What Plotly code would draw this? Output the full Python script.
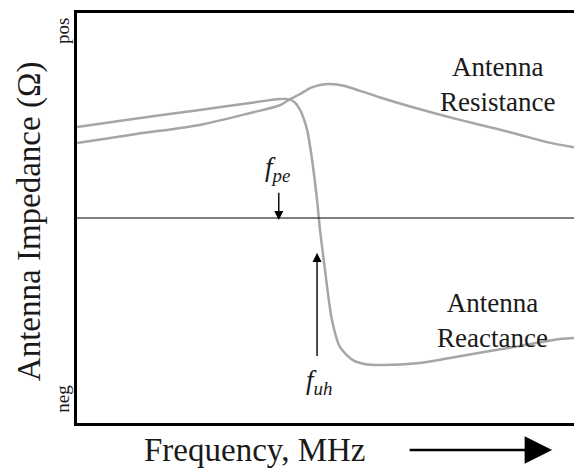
import plotly.graph_objects as go

# Frequency axis runs 0..100 (arbitrary units), impedance -1 (neg) .. +1 (pos)
res_freq = [0, 12, 24.7, 34.8, 40.8, 42.9, 44.9, 46.9, 48.9, 50.9, 53.9, 57, 61, 67.6, 74.4, 81, 87.7, 94.6, 100]
res_imp = [0.366, 0.41, 0.454, 0.512, 0.55, 0.58, 0.605, 0.634, 0.649, 0.654, 0.644, 0.62, 0.588, 0.54, 0.495, 0.455, 0.415, 0.37, 0.345]

react_freq = [0, 12, 24.7, 34.8, 40.8, 42.5, 43.8, 44.9, 46.3, 47.3, 48.3, 48.9, 49.9, 51.3, 52.9, 55.5, 57.9, 61, 69, 75, 83.1, 89.1, 97.2, 100]
react_imp = [0.444, 0.485, 0.527, 0.561, 0.58, 0.58, 0.565, 0.527, 0.43, 0.283, 0.088, -0.059, -0.254, -0.498, -0.629, -0.693, -0.712, -0.717, -0.707, -0.683, -0.649, -0.624, -0.59, -0.585]

curve_color = "#a6a6a6"
serif = "Liberation Serif"
ink = "#1a1a1a"

fig = go.Figure()
fig.add_trace(go.Scatter(x=res_freq, y=res_imp, mode="lines",
                         line=dict(color=curve_color, width=2.5, shape="spline", smoothing=0.8)))
fig.add_trace(go.Scatter(x=react_freq, y=react_imp, mode="lines",
                         line=dict(color=curve_color, width=2.5, shape="spline", smoothing=0.8)))
# zero impedance reference
fig.add_trace(go.Scatter(x=[0, 100], y=[0, 0], mode="lines", line=dict(color="black", width=1.2)))

fpe, fuh = 40.6, 48.3


def label(x, y, text, size, angle=0, ref="data"):
    d = dict(x=x, y=y, text=text, showarrow=False, textangle=angle,
             xanchor="center", yanchor="middle", font=dict(family=serif, size=size, color=ink))
    if ref == "paper":
        d.update(xref="paper", yref="paper")
    return d


annotations = [
    label(84.7, 0.649, "Antenna<br>Resistance", 27),
    label(83.7, -0.50, "Antenna<br>Reactance", 27),
    label(fpe - 0.3, 0.24, "<i>f<sub>pe</sub></i>", 27),
    label(fuh + 0.4, -0.80, "<i>f<sub>uh</sub></i>", 27),
    # f_pe arrow pointing down onto the zero line
    dict(x=fpe, y=-0.01, ax=fpe, ay=0.13, xref="x", yref="y", axref="x", ayref="y",
         text="", showarrow=True, arrowhead=2, arrowsize=1.3, arrowwidth=1.4, arrowcolor="black"),
    # f_uh arrow pointing up to the reactance curve
    dict(x=fuh, y=-0.17, ax=fuh, ay=-0.68, xref="x", yref="y", axref="x", ayref="y",
         text="", showarrow=True, arrowhead=2, arrowsize=1.3, arrowwidth=1.4, arrowcolor="black"),
    # axis end labels
    label(-0.029, 0.955, "pos", 19, -90, "paper"),
    label(-0.029, 0.058, "neg", 19, -90, "paper"),
    # axis titles
    label(-0.094, 0.493, "Antenna Impedance (Ω)", 33, -90, "paper"),
    label(0.358, -0.066, "Frequency, MHz", 33, 0, "paper"),
    # frequency direction arrow
    dict(x=0.956, y=-0.066, ax=-144, ay=0, xref="paper", yref="paper", axref="pixel", ayref="pixel",
         text="", showarrow=True, arrowhead=2, arrowsize=2.2, arrowwidth=2.5, arrowcolor="black"),
]

fig.update_layout(
    width=574, height=468,
    margin=dict(l=77, r=0, t=13, b=45),
    paper_bgcolor="white", plot_bgcolor="white",
    showlegend=False,
    annotations=annotations,
    xaxis=dict(range=[0, 100], showgrid=False, zeroline=False, showticklabels=False, ticks="",
               showline=True, linecolor="black", linewidth=2.5, mirror=True),
    yaxis=dict(range=[-1.0, 1.0], showgrid=False, zeroline=False, showticklabels=False, ticks="",
               showline=True, linecolor="black", linewidth=2.5),
)

fig.write_html("out.html")
